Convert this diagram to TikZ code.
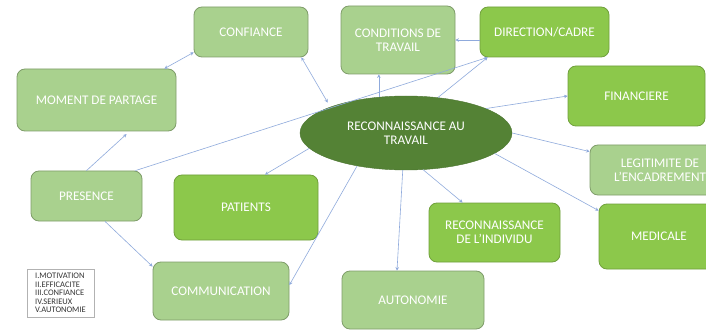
\documentclass[tikz,border=0pt]{standalone}
\usepackage{fontspec}
\setmainfont{Carlito}
\usetikzlibrary{shapes.geometric,arrows.meta}
\definecolor{lightg}{HTML}{A9D18E}
\definecolor{brightg}{HTML}{8CC84B}
\definecolor{darkg}{HTML}{548235}
\definecolor{lineb}{HTML}{8FAADC}
\begin{document}
\begin{tikzpicture}[x=1pt,y=-1pt,
  box/.style={rectangle, rounded corners=8pt, inner sep=0pt, align=center, text=white, line width=0.8pt, font=\fontsize{13.2}{14}\selectfont},
  lightbox/.style={box, fill=lightg, draw=lightg!75!black},
  brightbox/.style={box, fill=brightg, draw=brightg!80!black},
  conn/.style={draw=lineb, line width=0.6pt, -{Stealth[length=3.5pt,width=3.5pt]}},
  both/.style={conn, {Stealth[length=3.5pt,width=3.5pt]}-{Stealth[length=3.5pt,width=3.5pt]}}]
\useasboundingbox (0,0) rectangle (706,331);
\fill[white] (0,0) rectangle (706,331);
% nodes
\node[lightbox, minimum width=114pt, minimum height=50pt] (conf) at (251,32) {CONFIANCE};
\node[lightbox, minimum width=159pt, minimum height=62pt] (mom) at (96.5,100) {MOMENT DE PARTAGE};
\node[lightbox, minimum width=114pt, minimum height=68pt] (cond) at (398,40) {CONDITIONS DE\\TRAVAIL};
\node[brightbox, minimum width=129pt, minimum height=50pt] (dir) at (544.5,32) {DIRECTION/CADRE};
\node[brightbox, minimum width=137pt, minimum height=60pt] (fin) at (636.5,96) {FINANCIERE};
\node[ellipse, fill=darkg, draw=darkg!90!black, minimum width=212pt, minimum height=74pt, inner sep=0pt, align=center, text=white, font=\fontsize{13.2}{14}\selectfont] (e) at (406,133) {RECONNAISSANCE AU\\TRAVAIL};
\node[lightbox, minimum width=140pt, minimum height=50pt] (leg) at (660,170) {LEGITIMITE DE\\L’ENCADREMENT};
\node[brightbox, minimum width=120pt, minimum height=65pt] (med) at (659,236.5) {MEDICALE};
\node[brightbox, minimum width=131pt, minimum height=59pt] (rind) at (494.5,232.5) {RECONNAISSANCE\\DE L’INDIVIDU};
\node[lightbox, minimum width=142pt, minimum height=58pt] (auto) at (413,300) {AUTONOMIE};
\node[lightbox, minimum width=111pt, minimum height=50pt] (pres) at (86.5,196) {PRESENCE};
\node[brightbox, minimum width=144pt, minimum height=65pt] (pat) at (246,207.5) {PATIENTS};
\node[lightbox, minimum width=136pt, minimum height=58pt] (comm) at (221,291) {COMMUNICATION};
\node[draw=black!30, fill=white, line width=0.6pt, minimum width=67pt, minimum height=48pt, inner sep=3pt, align=left, text=black!80, font=\fontsize{8.5}{8.5}\selectfont] (lg) at (60.5,293) {I.MOTIVATION\\II.EFFICACITE\\III.CONFIANCE\\IV.SERIEUX\\V.AUTONOMIE};
% connectors
\draw[both] ([yshift=5pt]conf.south west) -- ([xshift=-12pt]mom.north east);
\draw[both, shorten >=5pt] ([xshift=-7pt]conf.south east) -- (e.161);
\draw[conn] (e.127) -- (e.127 |- cond.south);
\draw[conn] ([yshift=-8pt]dir.west) -- ([yshift=-8pt]dir.west -| cond.east);
\draw[conn] (e.48) -- ([xshift=8pt]dir.south west);
\draw[conn] ([xshift=-7pt]pres.north east) -- ([xshift=8pt]dir.south west);
\draw[conn] (e.17) -- (fin.west);
\draw[conn] (e.east) -- ([yshift=-7pt]leg.north west);
\draw[conn] (e.347) -- ([yshift=-7pt]med.north west);
\draw[conn] (e.295) -- ([xshift=34pt]rind.north west);
\draw[conn] (e.265) -- ([xshift=-16pt]auto.north);
\draw[conn] (e.214) -- ([yshift=6pt]comm.east);
\draw[conn] (e.189) -- ([xshift=19pt]pat.north);
\draw[conn, shorten >=4pt] (pres.north) -- ([xshift=33pt]mom.south);
\draw[conn] ([xshift=18.5pt]pres.south) -- ([yshift=-5pt]comm.north west);
\end{tikzpicture}
\end{document}
